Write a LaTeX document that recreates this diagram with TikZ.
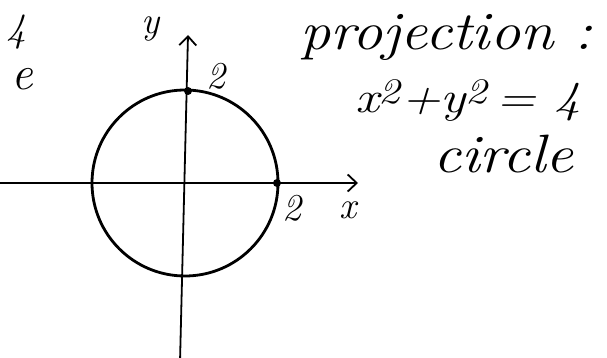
\documentclass[tikz,border=0pt]{standalone}
\usepackage{tikz}
\usetikzlibrary{arrows.meta,positioning,calc}
\newcommand{\wide}[2][1.15]{\scalebox{#1}[1]{#2}}
\newcommand{\sq}{\textsuperscript{\fontsize{36}{36}\selectfont 2}}
\begin{document}
\begin{tikzpicture}[x=1pt,y=-1pt,
  axis/.style={line width=1.8pt,-{Straight Barb[length=9pt,width=17pt,line width=1.8pt]}},
  curve/.style={line width=2.8pt},
  dot/.style={circle,fill,inner sep=0pt,minimum size=8pt},
  lbl/.style={inner sep=0pt,font=\fontsize{38}{38}\selectfont\itshape},
  note/.style={inner sep=0pt,anchor=base west,font=\fontsize{54}{60}\selectfont\itshape}
]
\useasboundingbox (0,0) rectangle (607,358);
% axes
\coordinate (O) at (185,183);
\coordinate (ytop) at (188,35);
\coordinate (ybot) at (180,362);
\coordinate (xleft) at (-4,183);
\coordinate (xright) at (358,183);
\draw[axis] (ybot) -- (ytop);
\draw[axis] (xleft) -- (xright);
% the circle x^2+y^2=4
\draw[curve] (O) circle[radius=93];
\node[dot] (ytwo) at (188,91) {};
\node[dot] (xtwo) at (277,183) {};
\node[lbl] (ylab) at (151,29) {y};
\node[lbl] (ytwolab) at (216,76) {2};
\node[lbl] (xtwolab) at (292,208) {2};
\node[lbl] (xlab) at (348,210) {x};
% text on the right
\node[note] (proj) at (300,50) {\wide[1.12]{projection :}};
\node[note,font=\fontsize{44}{50}\selectfont\itshape] (eq) at (355,113) {\wide[1.2]{x\sq+y\sq\,= 4}};
\node[note] (circ) at (433,172) {\wide{circle}};
% text cut off at the left
\node[note,font=\fontsize{40}{44}\selectfont\itshape] (four) at (6,42) {4};
\node[note,anchor=base east,font=\fontsize{48}{50}\selectfont\itshape] (ee) at (33,90) {e};
\end{tikzpicture}
\end{document}
